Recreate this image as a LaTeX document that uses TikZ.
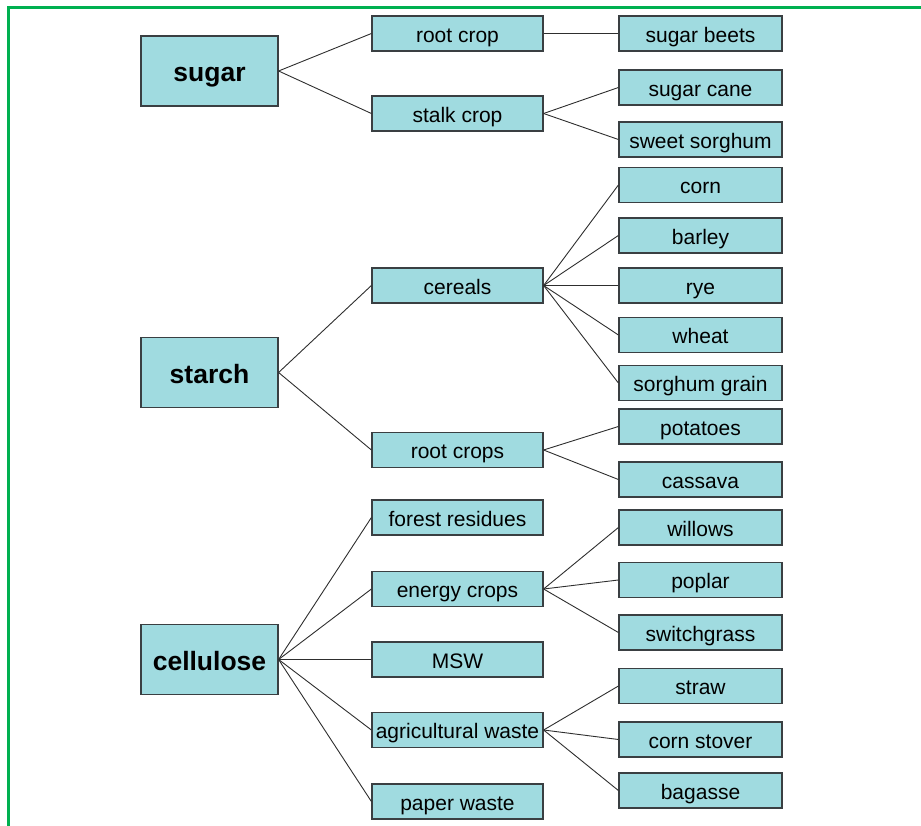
\documentclass[tikz,border=0pt]{standalone}
\usepackage{fontspec}
\setmainfont{Liberation Sans}
\usepackage{tikz}
\usetikzlibrary{positioning}
\definecolor{FeedCyan}{HTML}{A0DBE0}
\definecolor{FeedEdge}{HTML}{3A3F42}
\definecolor{FeedLine}{HTML}{2E2E2E}
\definecolor{FeedFrame}{HTML}{00B050}

\begin{document}
\begin{tikzpicture}[x=1pt,y=-1pt,
  every node/.style={draw=FeedEdge,fill=FeedCyan,line width=1.2pt,inner sep=0pt,text=black},
  feedbox/.style={minimum width=137pt,minimum height=70pt,text height=24pt,text depth=2pt,
    font=\fontsize{26.5}{30}\selectfont\bfseries},
  groupbox/.style={minimum width=171pt,minimum height=35pt,text height=20pt,text depth=2.4pt,
    font=\fontsize{21}{25}\selectfont},
  cropbox/.style={minimum width=163pt,minimum height=35pt,text height=20pt,text depth=2.4pt,
    font=\fontsize{21}{25}\selectfont},
  link/.style={draw=FeedLine,line width=0.9pt}]
  \useasboundingbox (0,0) rectangle (921,826);
  \draw[FeedFrame,line width=2.2pt] (921,7.5) -- (8.5,7.5) -- (8.5,826);
  \def\groupnode#1#2#3{
    \node[groupbox] (#1) at (457.5,#2) {#3};
  }
  \def\cropnode#1#2#3{
    \node[cropbox] (#1) at (700.5,#2) {#3};
  }
  % feedstock types
  \node[feedbox] (sugar) at (209.5,71) {sugar};
  \node[feedbox] (starch) at (209.5,372.5) {starch};
  \node[feedbox] (cellulose) at (209.5,659.5) {cellulose};
  % groups
  \groupnode{rootcrop}{33.5}{root crop}
  \groupnode{stalkcrop}{113.5}{stalk crop}
  \groupnode{cereals}{285.5}{cereals}
  \groupnode{rootcrops}{450}{root crops}
  \groupnode{forest}{517.5}{forest residues}
  \groupnode{energy}{589}{energy crops}
  \groupnode{msw}{659.5}{MSW}
  \groupnode{agri}{730}{agricultural waste}
  \groupnode{paper}{801.5}{paper waste}
  % crops
  \cropnode{beets}{33.5}{sugar beets}
  \cropnode{cane}{87.5}{sugar cane}
  \cropnode{sweet}{139.5}{sweet sorghum}
  \cropnode{corn}{185}{corn}
  \cropnode{barley}{235.5}{barley}
  \cropnode{rye}{285.5}{rye}
  \cropnode{wheat}{335}{wheat}
  \cropnode{grain}{383}{sorghum grain}
  \cropnode{potatoes}{426.5}{potatoes}
  \cropnode{cassava}{479.5}{cassava}
  \cropnode{willows}{527.5}{willows}
  \cropnode{poplar}{580}{poplar}
  \cropnode{switch}{632.5}{switchgrass}
  \cropnode{straw}{686}{straw}
  \cropnode{stover}{739.5}{corn stover}
  \cropnode{bagasse}{790.5}{bagasse}
  % connectors
  \foreach \from/\to in {sugar/rootcrop,sugar/stalkcrop,starch/cereals,starch/rootcrops,
    cellulose/forest,cellulose/energy,cellulose/msw,cellulose/agri,cellulose/paper,
    rootcrop/beets,stalkcrop/cane,stalkcrop/sweet,
    cereals/corn,cereals/barley,cereals/rye,cereals/wheat,cereals/grain,
    rootcrops/potatoes,rootcrops/cassava,
    energy/willows,energy/poplar,energy/switch,
    agri/straw,agri/stover,agri/bagasse}
    \draw[link] (\from.east) -- (\to.west);
\end{tikzpicture}
\end{document}
